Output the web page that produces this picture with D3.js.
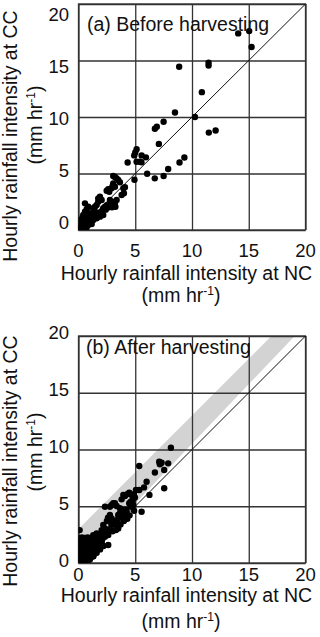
<!DOCTYPE html>
<html>
<head>
<meta charset="utf-8">
<script src="https://cdn.jsdelivr.net/npm/d3@7"></script>
<style>
body{margin:0;background:#fff;}
svg{display:block;}
text{font-family:"Liberation Sans",Arial,Helvetica,sans-serif;fill:#111;}
</style>
</head>
<body>
<svg id="chart"></svg>
<script>

// tick values shared by both axes
var ticks=[0,5,10,15,20]

// (a) before harvesting: [NC, CC] in mm/hr
var beforeHarvest=[
 [14.07,17.4],[15.04,17.6],[15.25,16.2],[8.87,14.45],[11.46,14.8],[11.46,14.55],[10.87,12.2],
 [8.5,10.4],[10.26,10.0],[7.5,9.58],[6.9,9.14],[6.73,8.96],[11.48,8.62],[12.08,8.8],[7.08,7.62],
 [5.12,7.15],[5.0,6.86],[4.91,6.6],[5.56,6.6],[5.94,6.43],[5.12,6.04],[5.41,6.04],[5.55,6.0],
 [4.33,5.97],[9.33,6.42],[8.9,5.98],[7.9,5.4],[7.5,4.78],[6.72,4.57],[6.05,4.98],[4.93,4.45],
 [3.06,4.78],[3.21,4.7],[3.36,4.57],[3.5,4.42],[3.65,4.22],[3.06,4.13],[3.01,3.89],[3.21,3.83],
 [2.92,3.69],[2.62,3.6],[2.48,3.48],[2.71,3.39],[3.95,3.69],[4.09,3.78],[3.8,3.1],[4.0,3.25],
 [2.77,2.65],[2.92,2.5],[3.06,2.36],[3.21,2.42],[3.36,2.65],[3.1,2.2],[3.25,2.06],[2.95,2.01],
 [1.89,2.8],[2.04,2.65],[1.74,2.5],[1.6,2.21],[1.45,2.06],[1.3,1.92],[0.86,2.06],[0.72,1.83],
 [0.57,1.62],[0.86,1.48],[1.16,1.48],[1.45,1.62],[0.42,1.33],[0.57,1.03],[0.72,0.88],[0.28,0.73],
 [0.42,0.59],[0.13,0.44],[0.28,0.24],[0.02,0.06],[0.13,0.0],[1.01,0.73],[1.3,0.88],[1.6,1.03],
 [1.89,1.18],[2.18,1.33],[0.86,0.44],[1.16,0.53],[0.72,0.24],[0.57,0.06],[2.18,1.92],[2.33,2.06],
 [0.2,0.9],[0.35,1.1],[0.5,1.25],[0.15,0.2],[0.4,0.35],[0.6,0.5],[0.05,0.3],[1.0,1.2],[1.2,1.1],
 [1.4,1.3],[0.9,1.0],[0.25,0.05],[0.45,0.15],[1.7,1.5],[2.0,1.6],[2.4,1.8],[2.6,2.0],[2.5,2.2],
 [1.74,2.8],[1.89,2.94],[0.57,2.36]
]

// (b) after harvesting: [NC, CC] in mm/hr
var afterHarvest=[
 [8.14,10.15],[7.11,8.92],[7.24,8.78],[7.17,8.69],[7.32,8.83],[7.9,8.78],[5.35,8.54],[6.73,7.98],
 [7.55,8.19],[7.55,6.58],[6.0,7.16],[5.77,6.66],[5.35,6.43],[6.25,6.0],[5.06,6.43],[4.88,6.07],
 [4.97,5.78],[4.68,5.99],[4.47,6.19],[4.3,6.07],[4.09,5.9],[3.95,5.99],[3.8,5.61],[4.77,5.55],
 [4.6,5.4],[4.47,5.26],[4.82,5.11],[4.62,4.96],[5.56,4.52],[2.33,4.96],[2.92,5.11],[3.21,5.26],
 [3.36,5.02],[3.65,4.82],[3.95,4.67],[4.24,4.52],[4.09,4.38],[3.65,4.38],[3.5,4.23],[3.8,4.08],
 [3.95,3.93],[4.24,4.08],[2.77,4.23],[2.92,3.93],[3.06,3.64],[3.21,3.43],[3.36,3.2],[3.5,3.05],
 [2.18,3.35],[2.33,3.05],[2.04,2.9],[2.48,2.76],[2.18,2.61],[1.89,2.46],[2.62,2.46],[2.33,2.32],
 [2.62,1.58],[1.6,2.61],[1.3,2.46],[0.1,2.9],[3.06,5.26],[2.77,4.96],
 [4.0,3.7],[4.3,3.9],[3.7,3.4],[4.5,4.2],[4.9,4.6],[4.2,4.7],[3.3,2.9],[3.0,2.8],[2.8,3.0],
 [2.6,2.9],[2.9,3.4],[2.5,3.7],[2.6,4.0],[3.4,3.8],[3.6,4.0],
 [2.2,1.5],[1.9,1.2],[1.6,0.9],[1.3,0.6],[1.0,0.3],[0.7,0.1],
 [0.05,0.08],[0.3,0.12],[0.55,0.1],[0.8,0.15],
 [0.05,0.4],[0.3,0.38],[0.55,0.42],[0.8,0.4],[1.05,0.45],[1.3,0.6],
 [0.05,0.7],[0.3,0.72],[0.55,0.68],[0.8,0.7],[1.05,0.75],[1.3,0.8],[1.55,0.95],
 [0.05,1.0],[0.3,1.02],[0.55,0.98],[0.8,1.0],[1.05,1.05],[1.3,1.0],[1.55,1.1],[1.8,1.25],
 [0.05,1.3],[0.3,1.32],[0.55,1.28],[0.8,1.3],[1.05,1.35],[1.3,1.3],[1.55,1.35],[1.8,1.4],[2.05,1.5],
 [0.05,1.6],[0.3,1.62],[0.55,1.58],[0.8,1.6],[1.05,1.65],[1.3,1.6],[1.55,1.65],[1.8,1.7],[2.05,1.75],
 [0.05,1.9],[0.3,1.92],[0.55,1.88],[0.8,1.9],[1.05,1.95],[1.3,1.9],[1.55,1.95],[1.8,2.0],[2.1,2.1],
 [0.05,2.2],[0.3,2.25],[0.55,2.2],[0.8,2.25],[1.05,2.2],[1.3,2.25],[1.6,2.3],[1.9,2.2],[2.2,2.4]
]

// grey band in (b): lower and upper CC edge at NC = 0 and 20
var bandNC=[0,20]
var bandLow=[0,21]
var bandHigh=[3,23]

var screen={width:320,height:637}
var plotLeft=78.5, plotRight=305.5

var svg=d3.select("#chart")
  .attr("width",screen.width)
  .attr("height",screen.height)

var unitText=function(sel)
{
  sel.append("tspan").text("(mm hr")
  sel.append("tspan").attr("dy",-7).attr("font-size","12px").text("-1")
  sel.append("tspan").attr("dy",7).text(")")
}

var drawPanel=function(p)
{
  var g=svg.append("g").attr("id",p.id)

  var xScale=d3.scaleLinear().domain([0,20]).range([plotLeft,plotRight])
  var yScale=d3.scaleLinear().domain([0,20]).range([p.bottom,p.top])
  // tick labels in the original sit on their own spacing
  var yLabelScale=d3.scaleLinear().domain([0,20]).range([p.labelBottom,p.labelTop])

  g.append("clipPath").attr("id",p.id+"clip")
    .append("rect")
    .attr("x",plotLeft).attr("y",p.top)
    .attr("width",plotRight-plotLeft).attr("height",p.bottom-p.top)

  if(p.band)
  {
    var area=d3.area()
      .x(function(d,i){return xScale(bandNC[i])})
      .y0(function(d,i){return yScale(bandLow[i])})
      .y1(function(d,i){return yScale(bandHigh[i])})
    g.append("path")
      .datum(bandNC)
      .attr("clip-path","url(#"+p.id+"clip)")
      .attr("fill","#d3d3d3")
      .attr("d",area)
  }

  // grid
  var gx=g.append("g")
    .attr("transform","translate(0,"+p.bottom+")")
    .call(d3.axisBottom(xScale).tickValues(ticks).tickSize(-(p.bottom-p.top)).tickFormat(""))
  var gy=g.append("g")
    .attr("transform","translate("+plotLeft+",0)")
    .call(d3.axisLeft(yScale).tickValues(ticks).tickSize(-(plotRight-plotLeft)).tickFormat(""))
  gx.select(".domain").remove()
  gy.select(".domain").remove()
  g.selectAll(".tick line").attr("stroke","#333").attr("stroke-width",1.3)

  g.append("rect")
    .attr("x",plotLeft).attr("y",p.top)
    .attr("width",plotRight-plotLeft).attr("height",p.bottom-p.top)
    .attr("fill","none").attr("stroke","#333").attr("stroke-width",1.3)

  // 1:1 line
  g.append("line")
    .attr("x1",xScale(0)).attr("y1",yScale(0))
    .attr("x2",xScale(20)).attr("y2",yScale(20))
    .attr("stroke","#111").attr("stroke-width",1)

  g.append("g")
    .attr("clip-path","url(#"+p.id+"clip)")
    .selectAll("circle")
    .data(p.data)
    .enter()
    .append("circle")
    .attr("cx",function(d){return xScale(d[0])})
    .attr("cy",function(d){return yScale(d[1])})
    .attr("r",3.2)
    .attr("fill","#000")

  g.append("text")
    .attr("x",p.noteX).attr("y",p.noteY)
    .attr("font-size","19.5px")
    .text(p.note)

  // tick labels
  g.selectAll(".xlab")
    .data(ticks)
    .enter()
    .append("text")
    .attr("class","xlab")
    .attr("x",function(d){return xScale(d)})
    .attr("y",p.xTickBase)
    .attr("text-anchor","middle")
    .attr("font-size","18.5px")
    .text(function(d){return d})

  g.selectAll(".ylab")
    .data(ticks)
    .enter()
    .append("text")
    .attr("class","ylab")
    .attr("x",69)
    .attr("y",function(d){return yLabelScale(d)})
    .attr("dy","0.35em")
    .attr("text-anchor","end")
    .attr("font-size","18.5px")
    .text(function(d){return d})

  // axis titles
  g.append("text")
    .attr("x",186.5).attr("y",p.titleBase)
    .attr("text-anchor","middle")
    .attr("font-size","19.5px")
    .text("Hourly rainfall intensity at NC")
  g.append("text")
    .attr("x",181).attr("y",p.unitBase)
    .attr("text-anchor","middle")
    .attr("font-size","19.5px")
    .call(unitText)

  g.append("text")
    .attr("transform","translate(17,"+p.yTitleCenter+") rotate(-90)")
    .attr("text-anchor","middle")
    .attr("font-size","19.5px")
    .text("Hourly rainfall intensity at CC")
  g.append("text")
    .attr("transform","translate(42,"+p.yUnitCenter+") rotate(-90)")
    .attr("text-anchor","middle")
    .attr("font-size","19.5px")
    .call(unitText)
}

drawPanel({
  id:"pa", data:beforeHarvest, band:false,
  top:4, bottom:230, labelTop:15, labelBottom:223,
  xTickBase:257, titleBase:280, unitBase:302,
  yTitleCenter:136, yUnitCenter:125,
  note:"(a) Before harvesting", noteX:87, noteY:31
})

drawPanel({
  id:"pb", data:afterHarvest, band:true,
  top:336, bottom:563, labelTop:332.5, labelBottom:561,
  xTickBase:581, titleBase:602, unitBase:628,
  yTitleCenter:461, yUnitCenter:452,
  note:"(b) After harvesting", noteX:86, noteY:354
})

</script>
</body>
</html>
